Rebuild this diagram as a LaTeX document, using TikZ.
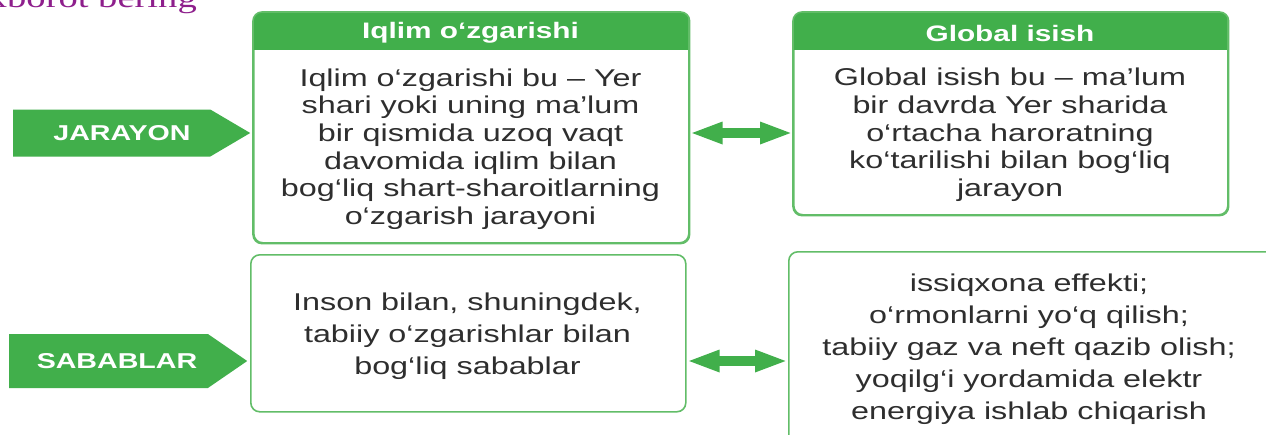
\documentclass[tikz,border=0pt]{standalone}
\usepackage{fontspec}
\setmainfont{Liberation Sans}[FakeStretch=1.33]
\newfontfamily\serifst{Liberation Serif}[FakeStretch=1.33]
\usetikzlibrary{shapes.symbols,arrows.meta}
\definecolor{grn}{HTML}{41AF4B}
\definecolor{bord}{HTML}{62BD68}
\definecolor{txt}{HTML}{2E2E2E}
\definecolor{purp}{HTML}{8E1F8C}
\begin{document}
\begin{tikzpicture}[x=1pt,y=-1pt,
 box/.style={draw=bord, line width=1.6pt, rounded corners=9pt, inner sep=0pt, anchor=north west},
 body/.style={text=txt, align=center, font=\fontsize{24.3}{27.7}\selectfont, inner sep=0pt},
 bodyw/.style={text=txt, align=center, font=\fontsize{24.3}{32}\selectfont, inner sep=0pt},
 hdr/.style={text=white, font=\bfseries\fontsize{22.4}{26}\selectfont, inner sep=0pt},
 tag/.style={shape=signal, signal to=east, fill=grn, inner sep=0pt, anchor=west},
 taglbl/.style={text=white, font=\bfseries\fontsize{21.5}{24}\selectfont, inner sep=0pt},
 dbl/.style={grn, line width=10pt, {Triangle[length=33pt,width=20pt]}-{Triangle[length=33pt,width=20pt]}}
]
\useasboundingbox (0,0) rectangle (1266,434);
\clip (0,0) rectangle (1266,434);
\fill[white] (0,0) rectangle (1266,434);

% cut-off title
\node[anchor=base east, text=purp, font=\serifst\fontsize{29}{30}\selectfont, inner sep=0pt] (ttl) at (197,7) {axborot bering};

% tags
\node[tag, signal pointer angle=61, minimum width=237pt, minimum height=47pt] (jar) at (13,133) {};
\node[taglbl] (jarl) at (122,133) {JARAYON};
\node[tag, signal pointer angle=69, minimum width=238pt, minimum height=54pt] (sab) at (9,361) {};
\node[taglbl] (sabl) at (117,361) {SABABLAR};

% box 1
\node[box, minimum width=435pt, minimum height=230pt] (b1) at (253,12) {};
\begin{scope}
\clip[rounded corners=9pt] (b1.north west) rectangle (b1.south east);
\fill[grn] (253,12) rectangle (688,50);
\end{scope}
\draw[bord, line width=1.6pt, rounded corners=9pt] (b1.north west) rectangle (b1.south east);
\node[hdr] (h1) at (470.5,33) {Iqlim o‘zgarishi};
\node[body] (t1) at (470.5,149) {Iqlim o‘zgarishi bu – Yer\\shari yoki uning ma’lum\\bir qismida uzoq vaqt\\davomida iqlim bilan\\bog‘liq shart-sharoitlarning\\o‘zgarish jarayoni};

% box 2
\node[box, minimum width=434pt, minimum height=202pt] (b2) at (793,12) {};
\begin{scope}
\clip[rounded corners=9pt] (b2.north west) rectangle (b2.south east);
\fill[grn] (793,12) rectangle (1227,50);
\end{scope}
\draw[bord, line width=1.6pt, rounded corners=9pt] (b2.north west) rectangle (b2.south east);
\node[hdr] (h2) at (1010,33) {Global isish};
\node[body] (t2) at (1010,135) {Global isish bu – ma’lum\\bir davrda Yer sharida\\o‘rtacha haroratning\\ko‘tarilishi bilan bog‘liq\\jarayon};

% box 3
\node[box, minimum width=435pt, minimum height=157pt] (b3) at (250,254) {};
\node[bodyw] (t3) at (467.5,336) {Inson bilan, shuningdek,\\tabiiy o‘zgarishlar bilan\\bog‘liq sabablar};

% box 4
\node[box, minimum width=500pt, minimum height=220pt] (b4) at (788,251) {};
\node[bodyw] (t4) at (1029,349) {issiqxona effekti;\\o‘rmonlarni yo‘q qilish;\\tabiiy gaz va neft qazib olish;\\yoqilg‘i yordamida elektr\\energiya ishlab chiqarish};

% connectors
\draw[dbl] (b1.east |- jar.east) -- (b2.west |- jar.east);
\draw[dbl] (b3.east |- sab.east) -- (b4.west |- sab.east);
\end{tikzpicture}
\end{document}
